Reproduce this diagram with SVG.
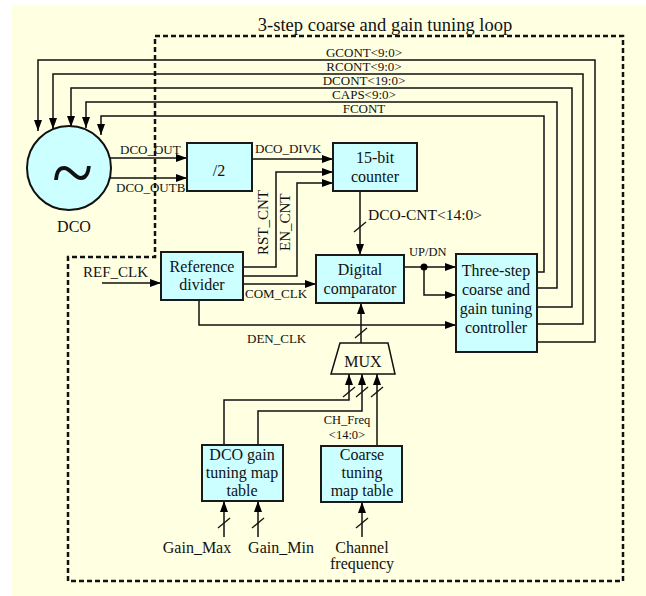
<svg xmlns="http://www.w3.org/2000/svg" width="646" height="596" viewBox="0 0 646 596">
<defs>
<marker id="ah" markerWidth="11" markerHeight="8" refX="11" refY="4" orient="auto" markerUnits="userSpaceOnUse">
<path d="M0,0 L11,4 L0,8 Z" fill="#000"/>
</marker>
<style>
text{font-family:"Liberation Serif","Times New Roman",serif;fill:#111}
.box{fill:#CCFFFF;stroke:#1a1a1a;stroke-width:2}
.w{fill:none;stroke:#111;stroke-width:1.5}
.a{fill:none;stroke:#111;stroke-width:1.5;marker-end:url(#ah)}
.sl{stroke:#111;stroke-width:1.3}
.t16{font-size:16px;text-anchor:middle}
.t13{font-size:13px}
.m{text-anchor:middle}
</style>
</defs>
<rect x="12" y="5" width="634" height="591" fill="#FFFFE1"/>
<path d="M155,36 H623 V581 H68 V257 H155 Z" fill="none" stroke="#111" stroke-width="2.5" stroke-dasharray="5,3"/>
<text x="385" y="31" font-size="18.5" class="m">3-step coarse and gain tuning loop</text>

<g id="connectors">
<path class="a" d="M537,342 H595 V60 H38 V131"/>
<path class="a" d="M537,324 H583 V74 H53 V129"/>
<path class="a" d="M537,307 H572 V88 H71 V127"/>
<path class="a" d="M537,288 H557 V102 H86 V128"/>
<path class="a" d="M537,272 H544 V116 H101 V135"/>
<text x="364" y="57" class="t13 m">GCONT&lt;9:0&gt;</text>
<text x="364" y="71" class="t13 m">RCONT&lt;9:0&gt;</text>
<text x="364" y="85" class="t13 m">DCONT&lt;19:0&gt;</text>
<text x="364" y="99" class="t13 m">CAPS&lt;9:0&gt;</text>
<text x="364" y="113" class="t13 m">FCONT</text>

<path class="a" d="M109,158 H187"/>
<path class="a" d="M109,178 H187"/>
<text x="120" y="154" class="t13">DCO_OUT</text>
<text x="116" y="192" class="t13">DCO_OUTB</text>

<path class="a" d="M252,159 H333"/>
<text x="255" y="153" class="t13">DCO_DIVK</text>
<path class="a" d="M243,267 H276 V172 H333"/>
<path class="a" d="M243,276 H297 V183 H333"/>
<text transform="translate(268,255) rotate(-90)" font-size="15">RST_CNT</text>
<text transform="translate(290,251) rotate(-90)" font-size="15">EN_CNT</text>

<path class="a" d="M102,283 H161"/>
<text x="83" y="277" font-size="15">REF_CLK</text>
<path class="a" d="M243,284 H316"/>
<text x="245" y="298" class="t13">COM_CLK</text>
<path class="a" d="M199,300 V325 H456"/>
<text x="247" y="343" class="t13">DEN_CLK</text>

<path class="a" d="M360,191 V255"/>
<line class="sl" x1="354" y1="232" x2="366" y2="222"/>
<text x="368" y="220" font-size="15.5">DCO-CNT&lt;14:0&gt;</text>

<path class="a" d="M404,267 H456"/>
<path class="a" d="M424,267 V295 H456"/>
<circle cx="424" cy="267" r="3.5" fill="#000"/>
<text x="409" y="256" font-size="12.5">UP/DN</text>

<path class="a" d="M361,343 V303"/>
<line class="sl" x1="355" y1="338" x2="367" y2="328"/>

<path class="a" d="M224,445 V400 H349 V374"/>
<path class="a" d="M258,445 V411 H362 V374"/>
<path class="a" d="M377,446 V374"/>
<line class="sl" x1="343" y1="397" x2="355" y2="387"/>
<line class="sl" x1="356" y1="397" x2="368" y2="387"/>
<line class="sl" x1="371" y1="397" x2="383" y2="387"/>
<text x="347" y="424" font-size="12.5" class="m">CH_Freq</text>
<text x="347" y="438.5" font-size="12.5" class="m">&lt;14:0&gt;</text>

<path class="a" d="M224,537 V501"/>
<path class="a" d="M258,537 V501"/>
<path class="a" d="M362,537 V502"/>
<line class="sl" x1="218" y1="528" x2="230" y2="518"/>
<line class="sl" x1="252" y1="528" x2="264" y2="518"/>
<line class="sl" x1="356" y1="528" x2="368" y2="518"/>
<text x="197" y="553" class="t16">Gain_Max</text>
<text x="281" y="553" class="t16">Gain_Min</text>
<text x="362" y="553" class="t16">Channel</text>
<text x="362" y="569" class="t16">frequency</text>
</g>

<g id="dco">
<circle cx="69" cy="168" r="42" fill="#CCFFFF" stroke="#111" stroke-width="2"/>
<text x="52" y="200" font-size="80" textLength="41" lengthAdjust="spacingAndGlyphs">~</text>
<text x="74" y="232" class="t16">DCO</text>
</g>
<g id="div2">
<rect class="box" x="187" y="143" width="65" height="48"/>
<text x="219" y="176" class="t16">/2</text>
</g>
<g id="counter">
<rect class="box" x="333" y="143" width="84" height="48"/>
<text x="375" y="163" class="t16">15-bit</text>
<text x="375" y="182" class="t16">counter</text>
</g>
<g id="refdiv">
<rect class="box" x="161" y="252" width="82" height="48"/>
<text x="202" y="272" class="t16">Reference</text>
<text x="202" y="290" class="t16">divider</text>
</g>
<g id="comparator">
<rect class="box" x="316" y="255" width="88" height="48"/>
<text x="360" y="275" class="t16">Digital</text>
<text x="360" y="294" class="t16">comparator</text>
</g>
<g id="controller">
<rect class="box" x="456" y="254" width="81" height="98"/>
<text x="496" y="276" class="t16">Three-step</text>
<text x="496" y="295" class="t16">coarse and</text>
<text x="496" y="314" class="t16">gain tuning</text>
<text x="496" y="333" class="t16">controller</text>
</g>
<g id="mux">
<polygon points="340,343 388,343 395,374 331,374" fill="#FFFFE1" stroke="#111" stroke-width="1.5"/>
<text x="363" y="367" class="t16">MUX</text>
</g>
<g id="gainmap">
<rect class="box" x="202" y="445" width="81" height="56"/>
<text x="242" y="460" class="t16">DCO gain</text>
<text x="242" y="478" class="t16">tuning map</text>
<text x="242" y="496" class="t16">table</text>
</g>
<g id="coarsemap">
<rect class="box" x="321" y="446" width="81" height="56"/>
<text x="362" y="460" class="t16">Coarse</text>
<text x="362" y="478" class="t16">tuning</text>
<text x="362" y="496" class="t16">map table</text>
</g>
</svg>
